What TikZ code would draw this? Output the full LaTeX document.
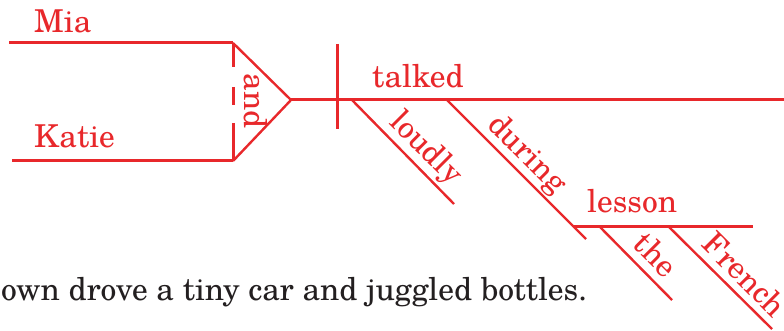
\documentclass[tikz,border=0pt]{standalone}
\usepackage{fontspec}
\setmainfont{TeX Gyre Schola}
\definecolor{diagred}{HTML}{E8282B}
\definecolor{inkdark}{HTML}{231F20}
\begin{document}
\begin{tikzpicture}[x=1pt,y=-1pt,
  ln/.style={draw=diagred,line width=3pt},
  dg/.style={draw=diagred,line width=2.4pt},
  wd/.style={text=diagred,inner sep=0pt,font=\fontsize{31.5}{38}\selectfont},
  wdsl/.style={wd,rotate=-45,anchor=base west}]
\useasboundingbox (0,0) rectangle (784,331);
% coordinates
\coordinate (miaL) at (9,43);
\coordinate (miaR) at (233,43);
\coordinate (katL) at (12,161);
\coordinate (katR) at (233,161);
\coordinate (apex) at (291,100);
\coordinate (mainR) at (784,100);
\coordinate (divT) at (337,44);
\coordinate (divB) at (337,129);
\coordinate (loudS) at (352,100);
\coordinate (loudE) at (454,204);
\coordinate (durS) at (447,100);
\coordinate (durE) at (586,239);
\coordinate (lesL) at (573,226);
\coordinate (lesR) at (753,226);
\coordinate (theS) at (599,226);
\coordinate (theE) at (672,300);
\coordinate (frS) at (668,226);
\coordinate (frE) at (772,329);
% lines
\draw[ln] (miaL) -- (miaR);
\draw[ln] (katL) -- (katR);
\draw[dg] (miaR) -- (apex) -- (katR);
\draw[ln,dash pattern=on 24pt off 20pt on 18pt off 18pt on 60pt] (miaR) -- (katR);
\draw[ln] (apex) -- (mainR);
\draw[ln] (divT) -- (divB);
\draw[dg] (loudS) -- (loudE);
\draw[dg] (durS) -- (durE);
\draw[ln] (lesL) -- (lesR);
\draw[dg] (theS) -- (theE);
\draw[dg] (frS) -- (frE);
% words
\node[wd,anchor=base west] (mia) at (34,33) {Mia};
\node[wd,anchor=base west] (katie) at (34,148) {Katie};
\node[wd,anchor=base,rotate=-90] (and) at (244,101) {and};
\node[wd,anchor=base west] (talked) at (372,88) {talked};
\node[wdsl] (loudly) at (388,123) {loudly};
\node[wdsl] (during) at (486,126) {during};
\node[wd,anchor=base west] (lesson) at (587,212) {lesson};
\node[wdsl] (the) at (631.5,245.8) {the};
\node[wdsl] (french) at (700.5,245.8) {French};
\node[anchor=base west,inner sep=0pt,text=inkdark,font=\fontsize{31.5}{38}\selectfont] (sent) at (1,300) {own drove a tiny car and juggled bottles.};
\end{tikzpicture}
\end{document}
